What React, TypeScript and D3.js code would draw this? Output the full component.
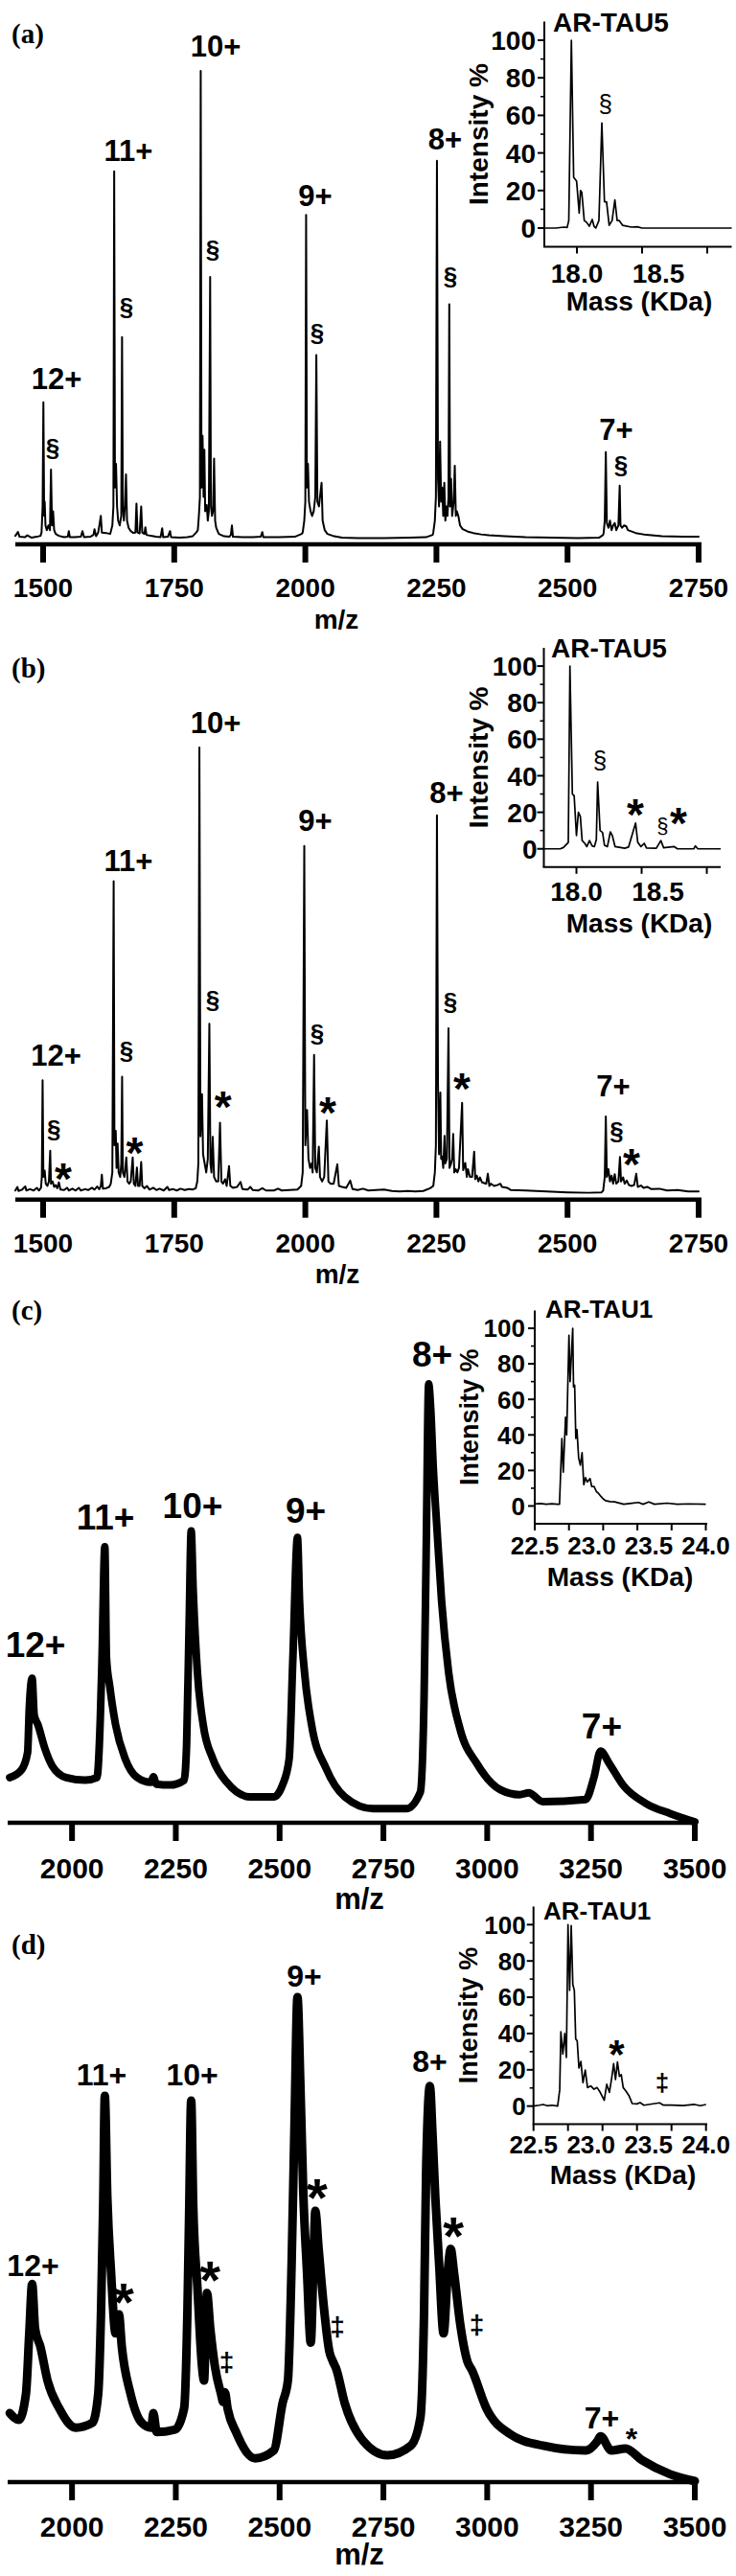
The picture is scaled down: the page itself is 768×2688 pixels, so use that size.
import React from "react";
import * as d3 from "d3";

type Pt = [number, number];
type Ann = [string, number, number];

// ---------------- data ----------------
const mzTicksTau5 = [1500, 1750, 2000, 2250, 2500, 2750];
const mzTicksTau1 = [2000, 2250, 2500, 2750, 3000, 3250, 3500];
const pctTicks = [0, 20, 40, 60, 80, 100];
const pctMinorTicks = [10, 30, 50, 70, 90];
const tau5MassTicks = [18.0, 18.4, 18.8];
const tau5MassLabels = [18.0, 18.5];
const tau1MassTicks = [22.5, 22.8, 23.1, 23.4, 23.7, 24.0];
const tau1MassLabels = [22.5, 23.0, 23.5, 24.0];

// (a) AR-TAU5 m/z spectrum (m/z, relative intensity)
const spectrumA: Pt[] = [
  [1447, 1.8], [1452, 2.6], [1455, 1.6], [1465, 1.5], [1470, 1.9], [1478, 1.4], [1488, 1.6], [1495, 1.8],
  [1497, 2.5], [1499, 8], [1500.5, 30], [1502, 6], [1503, 9], [1504.5, 4], [1507, 3], [1510, 4], [1513, 3],
  [1515, 15.8], [1517, 4], [1519, 7], [1521, 3], [1524, 2.2], [1530, 1.8],
  [1540, 1.5], [1547, 1.6], [1549, 2.8], [1551, 1.5], [1560, 1.5], [1572, 1.6], [1575, 2.8], [1578, 1.5],
  [1590, 1.6], [1596, 2], [1598, 3.2], [1601, 1.7], [1605, 2.5], [1608, 4.5], [1610, 6], [1612, 2.5], [1620, 2.4],
  [1628, 2.2], [1632, 4], [1634, 8], [1635.5, 78.8], [1637, 12], [1639, 17], [1641, 8], [1643, 5], [1646, 4],
  [1649, 6], [1650.5, 43.8], [1652, 8], [1654, 5], [1656, 8], [1658, 14.8], [1660, 5], [1663, 3.5], [1667, 2.8],
  [1672, 2.4], [1676, 2.5], [1678, 8.6], [1680, 2.5], [1684, 2.3], [1687, 8], [1689, 2.5], [1693, 2.2],
  [1695, 3.6], [1697, 2], [1705, 1.8],
  [1715, 1.6], [1724, 1.5], [1727, 3.4], [1729, 1.5], [1738, 1.6], [1742, 2.8], [1744, 1.5], [1760, 1.4],
  [1775, 1.5], [1785, 1.7], [1792, 2.5],
  [1795, 3], [1797, 6], [1799, 10], [1800.5, 100], [1802, 12], [1804, 22.9], [1806, 10], [1807.5, 20], [1809, 7],
  [1812, 8.3], [1814, 5], [1816, 7], [1818.5, 56.5], [1820, 8], [1822, 6], [1824, 7], [1826, 18.1], [1828, 5],
  [1830, 3.5], [1835, 2.2], [1845, 1.7],
  [1855, 1.6], [1858, 2], [1860, 4], [1862, 1.6], [1880, 1.5], [1900, 1.5], [1915, 1.6], [1918, 2.6], [1920, 1.5],
  [1950, 1.5], [1980, 1.6], [1993, 2.2],
  [1995, 2.5], [1998, 5], [2000, 9], [2001.5, 69.6], [2003, 12], [2005, 17], [2007, 9], [2010, 7], [2013, 6],
  [2016, 7], [2019, 10], [2021, 40], [2023, 9], [2026, 8], [2029, 11], [2031, 13], [2033, 5], [2037, 3],
  [2042, 2.2], [2055, 1.7],
  [2070, 1.4], [2100, 1.3], [2150, 1.3], [2200, 1.4], [2230, 1.5], [2243, 2],
  [2244, 2.5], [2247, 5], [2249, 10], [2251, 81], [2253, 14], [2255, 8], [2257, 21.7], [2259, 9], [2261, 12],
  [2263, 6], [2265, 13], [2267, 5], [2269, 8], [2271, 6], [2273, 10], [2274.5, 50.7], [2276, 8], [2278, 13.8],
  [2280, 6], [2283, 9], [2285, 16.6], [2287, 6], [2289, 7], [2292, 5.9], [2295, 4], [2300, 3.2], [2310, 2.7],
  [2320, 2.4], [2335, 2.1], [2350, 1.9], [2380, 1.7], [2420, 1.5], [2470, 1.4], [2520, 1.3], [2560, 1.4], [2568, 2],
  [2569, 2.5], [2571, 5], [2573, 19.5], [2575, 4.5], [2578, 3.5], [2581, 5], [2584, 3], [2587, 4], [2590, 4.5],
  [2593, 3], [2597, 4], [2599.5, 12.4], [2601, 4], [2604, 3.5], [2608, 4], [2612, 3.8], [2615, 3], [2620, 2.8],
  [2630, 2.4], [2650, 2], [2680, 1.7], [2720, 1.6], [2750, 1.6],
];

// (b) AR-TAU5 after treatment
const spectrumB: Pt[] = [
  [1447, 2], [1451, 2.8], [1453, 1.9], [1460, 2.2], [1466, 2.9], [1468, 2], [1475, 2.3], [1482, 2], [1488, 2.6],
  [1492, 2], [1496, 2.6],
  [1497.5, 5], [1499, 26.4], [1500.5, 5], [1503, 6.4], [1505, 3.5], [1508, 3], [1511, 4], [1513.5, 10.8],
  [1515, 3.5], [1518, 4], [1521, 2.8], [1524, 3.2], [1527, 2.5], [1530, 3.8], [1533, 2.2], [1540, 2.1],
  [1546, 2.6], [1549, 2], [1556, 2.4], [1562, 2], [1568, 2.6], [1572, 2], [1580, 2.3], [1586, 2.1], [1593, 2.6],
  [1598, 2.2], [1603, 2.9], [1607, 2.3], [1610, 3], [1612, 5.5], [1614, 2.4], [1620, 2.5], [1626, 2.8],
  [1629, 3.5], [1632, 6], [1634.5, 70.4], [1636, 12], [1638.5, 15.2], [1640, 7], [1642, 12.4], [1644, 6],
  [1647, 5], [1649, 8], [1650.6, 27.2], [1652, 6], [1655, 5], [1658.6, 9.3], [1661, 4], [1664, 3.5], [1667, 4],
  [1670.8, 9.3], [1673, 3.5], [1676, 3], [1678.8, 7.1], [1681, 3], [1684, 3], [1687, 8.3], [1689, 3],
  [1693, 2.5], [1698, 3], [1703, 2.2], [1710, 2.6], [1716, 2.1], [1722, 2.4], [1730, 2], [1737, 2.8],
  [1740, 2.1], [1748, 2.3], [1755, 2], [1762, 2.4], [1770, 2.1], [1778, 2.3], [1785, 2.2], [1791, 2.5],
  [1794, 4], [1796, 8], [1798, 100], [1800, 14], [1803, 23.3], [1805, 10], [1808, 8], [1811, 6], [1814, 9],
  [1817, 38.9], [1819, 8], [1821, 6], [1823.4, 13.9], [1826, 5], [1830, 4], [1834, 4], [1837.3, 17], [1840, 4],
  [1843, 3.5], [1847, 4.5], [1850, 3], [1854.5, 7.4], [1857, 3], [1862, 2.6], [1870, 2.8], [1876.4, 3.9],
  [1880, 2.3], [1890, 2.2], [1895, 2.8], [1900, 2.1], [1910, 2], [1918, 2.5], [1925, 2], [1940, 2], [1948, 2.4],
  [1955, 2], [1970, 2.1], [1985, 2.2],
  [1992, 3], [1995, 6], [1998, 78.2], [2000, 12], [2003.3, 19.8], [2006, 9], [2009, 7], [2012, 8], [2014, 6],
  [2016.7, 32], [2019, 7], [2022, 6], [2025.8, 11.7], [2028, 5], [2032, 4], [2036, 5], [2041, 17.5], [2044, 4],
  [2048, 3.5], [2054, 3.5], [2061, 7.8], [2064, 3], [2070, 2.8], [2078, 2.6], [2085.6, 4.2], [2090, 2.3],
  [2100, 2.1], [2110, 2.4], [2120, 2], [2135, 2.1], [2150, 2.2], [2165, 1.9], [2180, 1.8], [2195, 1.9],
  [2210, 1.8], [2225, 1.9], [2238, 2.5],
  [2244, 3], [2247, 6], [2249, 12], [2251, 85], [2253, 25.8], [2255, 10], [2257.5, 23.7], [2259, 9],
  [2261, 9.5], [2263, 7], [2265.5, 14.1], [2267, 8], [2270, 9], [2273, 37.9], [2275, 7], [2277.5, 7.8],
  [2280, 9], [2282, 14.5], [2284, 6], [2287, 6.7], [2290, 6], [2293, 7], [2299, 21.4], [2301, 6.5],
  [2305, 8.1], [2308, 5], [2310, 6.7], [2314, 5], [2318, 5], [2322, 10.6], [2324, 4.5], [2327, 5.3], [2330, 4],
  [2333, 4.9], [2337, 3.8], [2345, 3.5], [2348, 5.7], [2351, 3], [2354, 3.5], [2360, 3], [2366, 3.2],
  [2372, 3.5], [2375, 2.8], [2385, 2.6], [2392, 2.1], [2420, 2], [2460, 1.8], [2500, 1.6], [2540, 1.5],
  [2565, 1.6],
  [2568, 2], [2571, 5], [2573, 18.4], [2575, 5], [2578, 6.7], [2581, 4], [2584, 5.3], [2587, 3.5], [2590, 5.6],
  [2593, 3.5], [2597, 4], [2600, 9.4], [2602, 4], [2606, 4.9], [2609, 3.5], [2613, 4.2], [2617, 3.2],
  [2622, 3], [2627, 3.2], [2631, 5.7], [2634, 2.8], [2640, 3.1], [2645, 2.6], [2652, 2.8], [2660, 2.3],
  [2675, 2.4], [2690, 2], [2710, 2.1], [2730, 1.8], [2750, 1.8],
];

// (c) AR-TAU1 m/z spectrum
const spectrumC: Pt[] = [
  [1850, 10.3], [1878, 12], [1893, 16], [1897, 26], [1904, 32.9], [1909, 24.5], [1918, 22.3], [1935, 16.8],
  [1952, 13], [1986, 10.3], [2032, 9.7], [2060, 10.3], [2068, 23.4], [2072, 36.5], [2079, 62.9], [2083, 37.6],
  [2091, 31], [2105, 22.3], [2128, 14.6], [2157, 10.3], [2190, 9.2], [2196, 10.5], [2203, 8.8], [2236, 8.6],
  [2270, 9.7], [2276, 17.9], [2282, 45], [2287, 66.5], [2292, 52.8], [2302, 34.3], [2316, 22.3], [2339, 14.6],
  [2373, 9.2], [2429, 5.9], [2486, 5.9], [2507, 8.6], [2523, 14.6], [2532, 37.6], [2543, 65], [2548, 50.7],
  [2560, 34.3], [2577, 22.3], [2612, 12.4], [2657, 5.9], [2725, 3.2], [2805, 3.2], [2839, 7], [2848, 28.8],
  [2853, 61.6], [2859, 100], [2864, 94.3], [2870, 81.2], [2879, 67], [2890, 50.7], [2907, 34.3], [2935, 21.2],
  [2975, 13.5], [3032, 7.5], [3078, 6.4], [3100, 6.8], [3134, 4.8], [3237, 5.3], [3257, 10.3], [3273, 16.3],
  [3294, 13.5], [3327, 8.6], [3384, 4.3], [3441, 2.1], [3500, 0.2],
];

// (d) AR-TAU1 after treatment
const spectrumD: Pt[] = [
  [1850, 14.2], [1872, 12.8], [1889, 18.1], [1897, 30.6], [1904, 40.8], [1911, 31.6], [1924, 27.8],
  [1941, 20.9], [1969, 15.2], [2009, 11.2], [2049, 12.2], [2063, 18.1], [2070, 35.5], [2075, 56.8],
  [2079, 79.5], [2085, 58.7], [2094, 43.2], [2105, 30.6], [2113, 34.5], [2120, 27.8], [2140, 18.5],
  [2168, 12.2], [2191, 11.2], [2196, 14.2], [2204, 10.3], [2248, 10.8], [2270, 15.2], [2278, 35.5],
  [2282, 54.8], [2287, 78.5], [2292, 56.8], [2302, 40.2], [2313, 23.9], [2318, 20.9], [2325, 38.9],
  [2333, 31.6], [2344, 23.9], [2359, 18.1], [2364, 16.5], [2368, 18.5], [2375, 15], [2395, 10.3],
  [2441, 4.9], [2486, 6.5], [2507, 16.2], [2520, 20.9], [2529, 45.2], [2536, 74.2], [2543, 99.8],
  [2550, 81.9], [2557, 59.6], [2566, 43.2], [2575, 28.7], [2583, 49.9], [2586, 55.8], [2594, 48],
  [2606, 36.5], [2620, 26.8], [2628, 24.9], [2636, 23.4], [2657, 16.2], [2702, 8.4], [2759, 5.5],
  [2816, 7.5], [2839, 13.2], [2848, 35.5], [2853, 64.5], [2862, 81.5], [2868, 72.2], [2875, 58.7],
  [2884, 45.2], [2895, 30.6], [2905, 43.2], [2912, 48], [2920, 43.2], [2935, 32.5], [2952, 24.9],
  [2964, 22.9], [2998, 15.2], [3055, 9.9], [3134, 7.5], [3237, 6.5], [3265, 8.4], [3273, 9.4], [3299, 6.5],
  [3333, 6.9], [3373, 4.5], [3441, 1.6], [3500, 0.2],
];

// deconvoluted insets (mass kDa, intensity %)
const insetA: Pt[] = [
  [17.8, 0], [17.87, 0], [17.92, 0.5], [17.94, 0.3], [17.95, 4], [17.966, 100], [17.98, 27], [17.998, 25],
  [18.014, 8], [18.022, 20], [18.03, 19], [18.045, 4], [18.06, 3], [18.076, 1], [18.094, 4.6], [18.105, 1],
  [18.116, 0], [18.135, 4], [18.153, 56], [18.169, 14], [18.182, 14], [18.198, 1.5], [18.216, 4], [18.233, 15],
  [18.247, 4], [18.26, 4], [18.28, 1.5], [18.335, 0.5], [18.37, 0.7], [18.4, 0], [18.95, 0],
];
const insetB: Pt[] = [
  [17.8, 0], [17.9, 0], [17.92, 0.7], [17.95, 3.5], [17.96, 100], [17.975, 30], [17.986, 29], [18.0, 7.3],
  [18.012, 20], [18.024, 17.6], [18.035, 4.5], [18.051, 3], [18.064, 1.2], [18.08, 4.5], [18.096, 1.6],
  [18.11, 1.2], [18.122, 5], [18.13, 36.5], [18.145, 10], [18.16, 9], [18.172, 2], [18.19, 1.2], [18.208, 9.3],
  [18.22, 7.3], [18.237, 1.2], [18.296, 0.3], [18.32, 1], [18.363, 14.1], [18.376, 3.6], [18.396, 1.2],
  [18.416, 3], [18.43, 0.5], [18.49, 0.3], [18.518, 4.5], [18.535, 0.6], [18.6, 1.2], [18.62, 0], [18.72, 0],
  [18.73, 1.6], [18.745, 0], [18.885, 0],
];
const insetC: Pt[] = [
  [22.5, 1.2], [22.55, 1.4], [22.6, 1], [22.65, 1.3], [22.7, 1], [22.717, 1], [22.738, 38], [22.75, 19],
  [22.77, 50], [22.78, 40], [22.8, 96], [22.81, 70], [22.833, 100], [22.84, 67], [22.85, 68], [22.86, 38],
  [22.87, 43], [22.885, 27], [22.9, 23], [22.915, 30], [22.93, 12], [22.945, 16], [22.96, 13.5], [22.985, 15.4],
  [23.0, 10.9], [23.02, 11], [23.04, 8.2], [23.06, 7], [23.08, 5.4], [23.1, 4], [23.12, 3], [23.16, 2.5],
  [23.2, 2.3], [23.28, 1], [23.35, 1.5], [23.41, 2], [23.45, 1], [23.5, 2.3], [23.55, 1], [23.66, 1.6],
  [23.75, 1], [23.85, 1.2], [24.0, 1],
];
const insetD: Pt[] = [
  [22.5, 0], [22.55, 0.5], [22.583, 0.9], [22.62, 0.2], [22.66, 0.5], [22.71, 0], [22.728, 9], [22.738, 41],
  [22.755, 28.7], [22.772, 40], [22.786, 26.8], [22.8, 100], [22.814, 63.8], [22.828, 99.4], [22.842, 67],
  [22.855, 63.8], [22.867, 37], [22.88, 36], [22.895, 21], [22.912, 24.6], [22.93, 12.9], [22.95, 19.9],
  [22.97, 10.2], [22.998, 11.1], [23.026, 9.3], [23.053, 10.2], [23.08, 7.6], [23.115, 3.2], [23.137, 12],
  [23.16, 7.6], [23.18, 15.5], [23.197, 23.4], [23.213, 14.6], [23.23, 24.3], [23.247, 16.4], [23.263, 17.3],
  [23.28, 10.2], [23.302, 8.4], [23.33, 5.8], [23.358, 1.4], [23.4, 1.2], [23.427, 1.9], [23.46, 0.5],
  [23.596, 1.8], [23.63, 0.5], [23.7, 0.5], [23.8, 0.3], [23.9, 0.9], [23.95, 0.2], [24.0, 0.9],
];

// annotations [text, m/z, intensity]
const chargeA: Ann[] = [["12+", 1525.6, 32.8], ["11+", 1662.6, 81], ["10+", 1829, 103], ["9+", 2019, 71.5], ["8+", 2266.6, 83.4], ["7+", 2592.8, 22.1]];
const sectA: Ann[] = [["§", 1518.3, 18.7], ["§", 1659, 48.3], ["§", 1823.5, 60.6], ["§", 2022.7, 43], ["§", 2276.7, 54.9], ["§", 2602, 14.9]];
const chargeB: Ann[] = [["12+", 1524.7, 29.6], ["11+", 1662.6, 72.6], ["10+", 1829, 103.1], ["9+", 2019, 81.6], ["8+", 2269.4, 87.7], ["7+", 2587.4, 22.8]];
const sectB: Ann[] = [["§", 1520.6, 13.7], ["§", 1659, 31], ["§", 1823.5, 42.4], ["§", 2022.7, 34.9], ["§", 2276.7, 42], ["§", 2593.8, 13.2]];
const starB: Ann[] = [["*", 1538.4, 6.1], ["*", 1674.5, 11.8], ["*", 1842.8, 22], ["*", 2042.8, 20.7], ["*", 2298.6, 26.1], ["*", 2622, 9.2]];
const chargeC: Ann[] = [["12+", 1912, 37.8], ["11+", 2080.5, 66.8], ["10+", 2290.5, 69.4], ["9+", 2563, 68.3], ["8+", 2867.6, 103.9], ["7+", 3276, 19.2]];
const chargeD: Ann[] = [["12+", 1906.2, 42.4], ["11+", 2071.2, 81.7], ["10+", 2289.4, 81.7], ["9+", 2559.4, 102], ["8+", 2861.9, 84.4], ["7+", 3276.2, 11]];
const starD: Ann[] = [["*", 2124.3, 38.9], ["*", 2332.1, 43.4], ["*", 2590.6, 60.4], ["*", 2918.4, 52.4]];
const starD7: Ann[] = [["*", 3347.8, 9.9]];
const daggerD: Ann[] = [["‡", 2372.5, 22.9], ["‡", 2639, 30.2], ["‡", 2975, 30.6]];

const insetSectA: Ann[] = [["§", 18.175, 61.7]];
const insetSectB: Ann[] = [["§", 18.144, 43.9]];
const insetSectB2: Ann[] = [["§", 18.529, 8.8]];
const insetStarB: Ann[] = [["*", 18.362, 22.4], ["*", 18.626, 17.7]];
const insetStarD: Ann[] = [["*", 23.222, 32]];
const insetDaggerD: Ann[] = [["‡", 23.62, 8.3]];

// ---------------- drawing ----------------
const SANS = "'Liberation Sans', Arial, Helvetica, sans-serif";
const SERIF = "'Liberation Serif', 'Times New Roman', serif";

type Group = { items: Ann[]; fs: number; weight: string; star?: boolean };

type MainCfg = {
  spec: Pt[]; dom: [number, number]; xr: [number, number]; y0: number; y100: number;
  ticks: number[]; tickFs: number; tickY: number; titleX: number; titleY: number; titleFs: number;
  letter: string; letterY: number; sw: number; smooth: boolean; groups: Group[];
};

function Labels({ groups, x, y }: { groups: Group[]; x: (v: number) => number; y: (v: number) => number }) {
  return (
    <g>
      {groups.map((g, gi) =>
        g.items.map((a, i) => (
          <text
            key={gi + "-" + i}
            x={x(a[1])}
            y={y(a[2]) + (g.star ? g.fs * 0.5 : 0)}
            fontSize={g.fs}
            fontWeight={g.weight}
            fontFamily={SANS}
            textAnchor="middle"
          >
            {a[0]}
          </text>
        ))
      )}
    </g>
  );
}

function MainPanel({ c }: { c: MainCfg }) {
  const x = d3.scaleLinear().domain(c.dom).range(c.xr);
  const y = d3.scaleLinear().domain([0, 100]).range([c.y0, c.y100]);
  const line = d3
    .line<Pt>()
    .x((d) => x(d[0]))
    .y((d) => y(d[1]))
    .curve(c.smooth ? d3.curveMonotoneX : d3.curveLinear);
  return (
    <g>
      <path d={line(c.spec) || ""} fill="none" stroke="#000" strokeWidth={c.sw} strokeLinejoin="round" strokeLinecap="round" />
      <line x1={c.xr[0]} x2={c.xr[1] + 3} y1={c.y0} y2={c.y0} stroke="#000" strokeWidth={4.6} />
      {c.ticks.map((t) => (
        <rect key={"t" + t} x={x(t) - 3} y={c.y0} width={6} height={19} fill="#000" />
      ))}
      {c.ticks.map((t) => (
        <text key={"l" + t} x={x(t)} y={c.tickY} fontSize={c.tickFs} fontWeight="bold" fontFamily={SANS} textAnchor="middle">
          {t}
        </text>
      ))}
      <text x={c.titleX} y={c.titleY} fontSize={c.titleFs} fontWeight="bold" fontFamily={SANS} textAnchor="middle">m/z</text>
      <text x={12} y={c.letterY} fontSize={29} fontWeight="bold" fontFamily={SERIF}>{c.letter}</text>
      <Labels groups={c.groups} x={x} y={y} />
    </g>
  );
}

type InsetCfg = {
  spec: Pt[]; dom: [number, number]; xr: [number, number]; yBot: number; yTop: number; axisEnd: number;
  massTicks: number[]; massLabels: number[]; fmt: (v: number) => string;
  yLblGap: number; tickFs: number; tickDy: number; massDy: number; massX: number; titleFs: number;
  name: string; nameAt: [number, number]; nameFs: number; groups: Group[];
};

function Inset({ c }: { c: InsetCfg }) {
  const x = d3.scaleLinear().domain(c.dom).range(c.xr);
  const y = d3.scaleLinear().domain([-10, 110]).range([c.yBot, c.yTop]);
  const line = d3.line<Pt>().x((d) => x(d[0])).y((d) => y(d[1]));
  const x0 = c.xr[0];
  return (
    <g>
      <path d={line(c.spec) || ""} fill="none" stroke="#000" strokeWidth={1.7} strokeLinejoin="round" />
      <line x1={x0} x2={x0} y1={c.yTop} y2={c.yBot} stroke="#000" strokeWidth={2} />
      <line x1={x0 - 1} x2={c.axisEnd} y1={c.yBot} y2={c.yBot} stroke="#000" strokeWidth={2} />
      {pctTicks.map((t) => (
        <g key={"p" + t}>
          <line x1={x0 - 7} x2={x0} y1={y(t)} y2={y(t)} stroke="#000" strokeWidth={2} />
          <text x={x0 - c.yLblGap} y={y(t)} dy="0.36em" fontSize={c.tickFs} fontWeight="bold" fontFamily={SANS} textAnchor="end">
            {t}
          </text>
        </g>
      ))}
      {pctMinorTicks.map((t) => (
        <line key={"m" + t} x1={x0 - 4} x2={x0} y1={y(t)} y2={y(t)} stroke="#000" strokeWidth={1.6} />
      ))}
      {c.massTicks.map((t) => (
        <line key={"k" + t} x1={x(t)} x2={x(t)} y1={c.yBot} y2={c.yBot + 7} stroke="#000" strokeWidth={2} />
      ))}
      {c.massLabels.map((t) => (
        <text key={"kl" + t} x={x(t)} y={c.yBot + c.tickDy} fontSize={c.tickFs} fontWeight="bold" fontFamily={SANS} textAnchor="middle">
          {c.fmt(t)}
        </text>
      ))}
      <text x={c.massX} y={c.yBot + c.massDy} fontSize={28} fontWeight="bold" fontFamily={SANS} textAnchor="middle">Mass (KDa)</text>
      <text
        transform={`translate(${x0 - 59},${(c.yTop + c.yBot) / 2}) rotate(-90)`}
        fontSize={c.titleFs}
        fontWeight="bold"
        fontFamily={SANS}
        textAnchor="middle"
      >
        Intensity %
      </text>
      <text x={x(c.nameAt[0])} y={y(c.nameAt[1])} fontSize={c.nameFs} fontWeight="bold" fontFamily={SANS}>{c.name}</text>
      <Labels groups={c.groups} x={x} y={y} />
    </g>
  );
}

const fmt1 = (v: number) => v.toFixed(1);

const mains: MainCfg[] = [
  {
    spec: spectrumA, dom: [1447, 2750], xr: [16, 729], y0: 568, y100: 74, ticks: mzTicksTau5, tickFs: 28, tickY: 623,
    titleX: 351, titleY: 656, titleFs: 28, letter: "(a)", letterY: 45, sw: 2, smooth: false,
    groups: [
      { items: chargeA, fs: 31, weight: "bold" },
      { items: sectA, fs: 26, weight: "bold" },
    ],
  },
  {
    spec: spectrumB, dom: [1447, 2750], xr: [16, 729], y0: 1251.7, y100: 780, ticks: mzTicksTau5, tickFs: 28, tickY: 1307,
    titleX: 352, titleY: 1339, titleFs: 28, letter: "(b)", letterY: 707, sw: 2, smooth: false,
    groups: [
      { items: chargeB, fs: 31, weight: "bold" },
      { items: sectB, fs: 26, weight: "bold" },
      { items: starB, fs: 46, weight: "bold", star: true },
    ],
  },
  {
    spec: spectrumC, dom: [1845, 3500], xr: [8, 725], y0: 1902, y100: 1444, ticks: mzTicksTau1, tickFs: 30, tickY: 1960,
    titleX: 375, titleY: 1992, titleFs: 31, letter: "(c)", letterY: 1377, sw: 8, smooth: true,
    groups: [{ items: chargeC, fs: 37, weight: "bold" }],
  },
  {
    spec: spectrumD, dom: [1845, 3500], xr: [8, 725], y0: 2590, y100: 2083, ticks: mzTicksTau1, tickFs: 30, tickY: 2647,
    titleX: 375, titleY: 2676, titleFs: 31, letter: "(d)", letterY: 2039, sw: 9, smooth: true,
    groups: [
      { items: chargeD, fs: 32, weight: "bold" },
      { items: starD, fs: 56, weight: "bold", star: true },
      { items: starD7, fs: 32, weight: "bold", star: true },
      { items: daggerD, fs: 28, weight: "bold" },
    ],
  },
];

const insets: InsetCfg[] = [
  {
    spec: insetA, dom: [17.8, 18.95], xr: [568, 763.5], yBot: 257.6, yTop: 22.4, axisEnd: 763.5,
    massTicks: tau5MassTicks, massLabels: tau5MassLabels, fmt: fmt1, yLblGap: 9, tickFs: 28, tickDy: 37, massDy: 66,
    massX: 667, titleFs: 28, name: "AR-TAU5", nameAt: [17.853, 104.6], nameFs: 28,
    groups: [{ items: insetSectA, fs: 26, weight: "normal" }],
  },
  {
    spec: insetB, dom: [17.8, 18.885], xr: [567.5, 752], yBot: 904.8, yTop: 676, axisEnd: 752,
    massTicks: tau5MassTicks, massLabels: tau5MassLabels, fmt: fmt1, yLblGap: 7, tickFs: 28, tickDy: 35, massDy: 68,
    massX: 667, titleFs: 28, name: "AR-TAU5", nameAt: [17.844, 104.7], nameFs: 28,
    groups: [
      { items: insetSectB, fs: 26, weight: "normal" },
      { items: insetSectB2, fs: 22, weight: "normal" },
      { items: insetStarB, fs: 46, weight: "bold", star: true },
    ],
  },
  {
    spec: insetC, dom: [22.5, 24.0], xr: [558, 736.5], yBot: 1590, yTop: 1367.5, axisEnd: 738,
    massTicks: tau1MassTicks, massLabels: tau1MassLabels, fmt: fmt1, yLblGap: 10, tickFs: 26, tickDy: 32, massDy: 65,
    massX: 647, titleFs: 27, name: "AR-TAU1", nameAt: [22.592, 105.9], nameFs: 26,
    groups: [],
  },
  {
    spec: insetD, dom: [22.5, 24.0], xr: [556.7, 736.7], yBot: 2216.6, yTop: 1989.4, axisEnd: 738,
    massTicks: tau1MassTicks, massLabels: tau1MassLabels, fmt: fmt1, yLblGap: 8, tickFs: 26, tickDy: 30, massDy: 62,
    massX: 650, titleFs: 27, name: "AR-TAU1", nameAt: [22.586, 102.8], nameFs: 26,
    groups: [
      { items: insetStarD, fs: 42, weight: "bold", star: true },
      { items: insetDaggerD, fs: 26, weight: "bold" },
    ],
  },
];

export default function App() {
  return (
    <svg
      width={768}
      height={2688}
      viewBox="0 0 768 2688"
      style={{ position: "absolute", left: 0, top: 0, background: "#fff" }}
    >
      <rect x={0} y={0} width={768} height={2688} fill="#fff" />
      {mains.map((c, i) => (
        <MainPanel key={"m" + i} c={c} />
      ))}
      {insets.map((c, i) => (
        <Inset key={"i" + i} c={c} />
      ))}
    </svg>
  );
}
